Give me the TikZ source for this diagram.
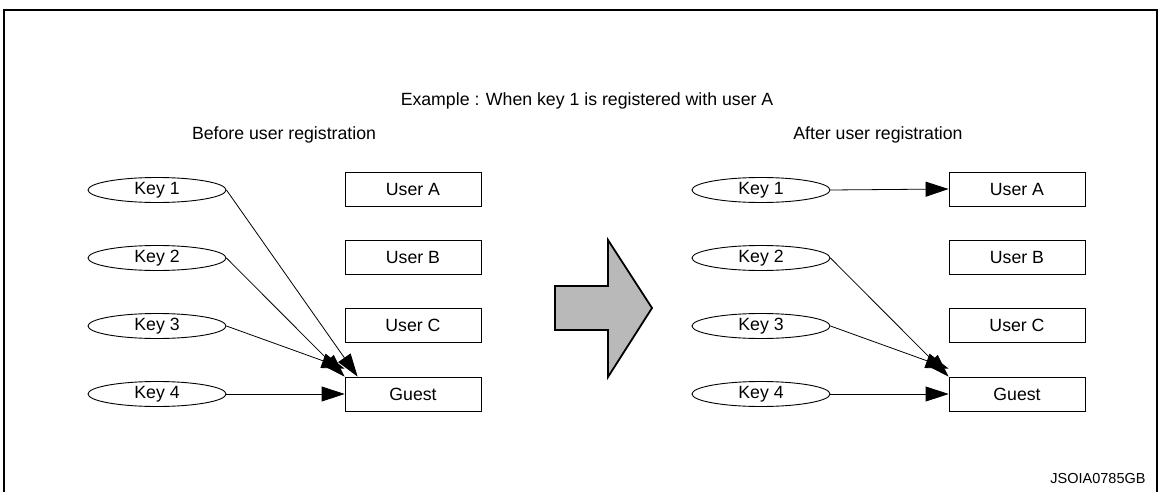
\documentclass[tikz,border=0pt]{standalone}
\usepackage{fontspec}
\setmainfont{Liberation Sans}
\usetikzlibrary{arrows.meta,shapes.geometric}
\begin{document}
\begin{tikzpicture}[x=1pt,y=-1pt,
  keynode/.style={draw,ellipse,line width=0.9pt,minimum width=138pt,minimum height=25pt,inner sep=0pt,font=\fontsize{17.7}{20}\selectfont},
  usernode/.style={draw,rectangle,line width=0.8pt,minimum width=136pt,minimum height=34pt,inner sep=0pt,font=\fontsize{17.7}{20}\selectfont},
  lbl/.style={font=\fontsize{17.7}{20}\selectfont,inner sep=0pt},
  conn/.style={line width=0.8pt,-{Triangle[length=23pt,width=15pt]}}]
\useasboundingbox (0,0) rectangle (1159,492);
% frame
\draw[line width=2pt] (4,492) -- (4,10) -- (1157,10) -- (1157,492);
% titles
\node[lbl] (ex) at (587,101) {Example : When key 1 is registered with user A};
\node[lbl] (bef) at (284,135) {Before user registration};
\node[lbl] (aft) at (878,135) {After user registration};
\node[font=\fontsize{14.5}{17}\selectfont,inner sep=0pt] (code) at (1098,479) {JSOIA0785GB};
% left side
\node[keynode] (k1) at (157,190) {Key 1};
\node[keynode] (k2) at (157,258) {Key 2};
\node[keynode] (k3) at (157,326) {Key 3};
\node[keynode] (k4) at (157,394) {Key 4};
\node[usernode] (ua) at (413,189) {User A};
\node[usernode] (ub) at (413,257) {User B};
\node[usernode] (uc) at (413,325) {User C};
\node[usernode] (ug) at (413,394) {Guest};
\draw[conn] (k1.east) -- ([xshift=13pt]ug.north west);
\draw[conn] (k2.east) -- (ug.north west);
\draw[conn] (k3.east) -- ([yshift=8pt]ug.north west);
\draw[conn] (k4.east) -- (ug.west);
% right side
\node[keynode] (rk1) at (761,190) {Key 1};
\node[keynode] (rk2) at (761,258) {Key 2};
\node[keynode] (rk3) at (761,326) {Key 3};
\node[keynode] (rk4) at (761,394) {Key 4};
\node[usernode] (rua) at (1017,189) {User A};
\node[usernode] (rub) at (1017,257) {User B};
\node[usernode] (ruc) at (1017,325) {User C};
\node[usernode] (rug) at (1017,394) {Guest};
\draw[conn] (rk1.east) -- (rua.west);
\draw[conn] (rk2.east) -- (rug.north west);
\draw[conn] (rk3.east) -- ([yshift=8pt]rug.north west);
\draw[conn] (rk4.east) -- (rug.west);
% big arrow
\draw[line width=1.8pt,fill=gray!55,line join=miter]
  (555,286) -- (608,286) -- (608,240) -- (652,308) -- (608,377) -- (608,330) -- (555,330) -- cycle;
\end{tikzpicture}
\end{document}
